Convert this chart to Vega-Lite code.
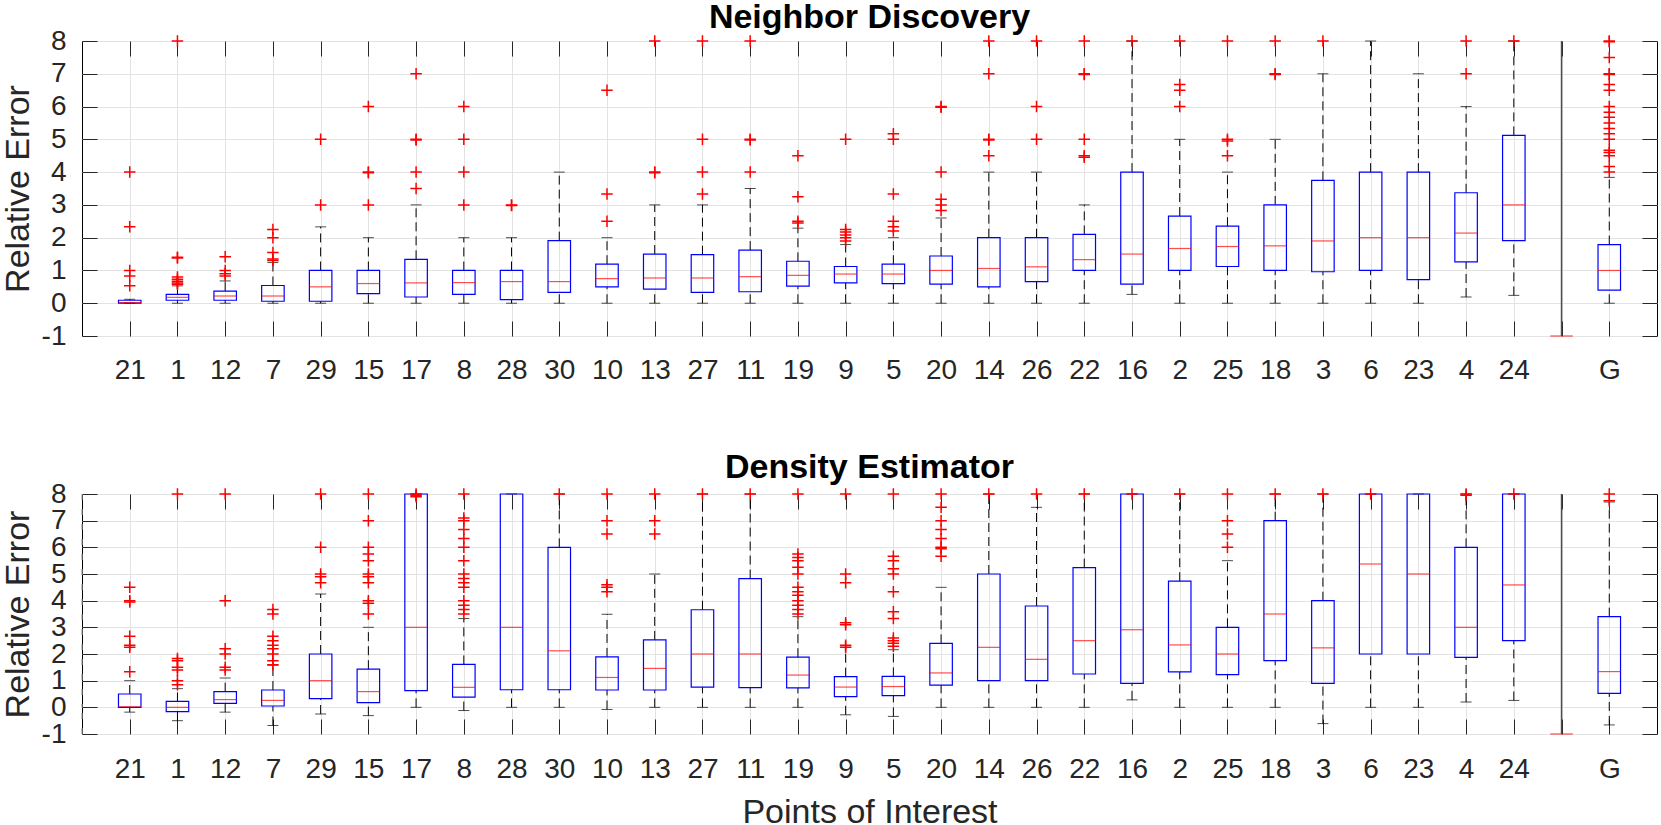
{
  "$schema": "https://vega.github.io/schema/vega-lite/v6.json",
  "padding": {"left": 0, "top": 0, "right": 0, "bottom": 0},
  "spacing": 158,
  "bounds": "flush",
  "datasets": {
    "nd_box": [
      {"poi": "21", "lo": 0, "q1": 0, "med": 0.02, "q3": 0.09, "hi": 0.12},
      {"poi": "1", "lo": 0, "q1": 0.09, "med": 0.18, "q3": 0.27, "hi": 0.53},
      {"poi": "12", "lo": 0, "q1": 0.09, "med": 0.22, "q3": 0.37, "hi": 0.68},
      {"poi": "7", "lo": 0, "q1": 0.06, "med": 0.22, "q3": 0.54, "hi": 1.24},
      {"poi": "29", "lo": 0, "q1": 0.06, "med": 0.5, "q3": 1.0, "hi": 2.33},
      {"poi": "15", "lo": 0, "q1": 0.29, "med": 0.6, "q3": 1.0, "hi": 2.0},
      {"poi": "17", "lo": 0, "q1": 0.19, "med": 0.62, "q3": 1.34, "hi": 3.0},
      {"poi": "8", "lo": 0, "q1": 0.27, "med": 0.63, "q3": 1.0, "hi": 2.0},
      {"poi": "28", "lo": 0, "q1": 0.11, "med": 0.66, "q3": 1.0, "hi": 2.0},
      {"poi": "30", "lo": 0, "q1": 0.33, "med": 0.66, "q3": 1.91, "hi": 4.0},
      {"poi": "10", "lo": 0, "q1": 0.5, "med": 0.75, "q3": 1.19, "hi": 2.0},
      {"poi": "13", "lo": 0, "q1": 0.43, "med": 0.77, "q3": 1.5, "hi": 3.0},
      {"poi": "27", "lo": 0, "q1": 0.33, "med": 0.77, "q3": 1.48, "hi": 3.0},
      {"poi": "11", "lo": 0, "q1": 0.35, "med": 0.81, "q3": 1.62, "hi": 3.5},
      {"poi": "19", "lo": 0, "q1": 0.52, "med": 0.85, "q3": 1.28, "hi": 2.29},
      {"poi": "9", "lo": 0, "q1": 0.62, "med": 0.89, "q3": 1.12, "hi": 1.79},
      {"poi": "5", "lo": 0, "q1": 0.6, "med": 0.89, "q3": 1.19, "hi": 2.0},
      {"poi": "20", "lo": 0, "q1": 0.58, "med": 1.0, "q3": 1.44, "hi": 2.6},
      {"poi": "14", "lo": 0, "q1": 0.5, "med": 1.06, "q3": 2.0, "hi": 4.0},
      {"poi": "26", "lo": 0, "q1": 0.66, "med": 1.11, "q3": 2.0, "hi": 4.0},
      {"poi": "22", "lo": 0, "q1": 1.0, "med": 1.33, "q3": 2.1, "hi": 3.0},
      {"poi": "16", "lo": 0.27, "q1": 0.58, "med": 1.5, "q3": 4.0, "hi": 8},
      {"poi": "2", "lo": 0, "q1": 1.0, "med": 1.67, "q3": 2.66, "hi": 5.0},
      {"poi": "25", "lo": 0, "q1": 1.12, "med": 1.73, "q3": 2.35, "hi": 4.0},
      {"poi": "18", "lo": 0, "q1": 1.0, "med": 1.75, "q3": 3.0, "hi": 5.0},
      {"poi": "3", "lo": 0, "q1": 0.96, "med": 1.9, "q3": 3.75, "hi": 7.0},
      {"poi": "6", "lo": 0, "q1": 1.0, "med": 2.0, "q3": 4.0, "hi": 8},
      {"poi": "23", "lo": 0, "q1": 0.72, "med": 2.0, "q3": 4.0, "hi": 7.0},
      {"poi": "4", "lo": 0.19, "q1": 1.26, "med": 2.14, "q3": 3.37, "hi": 6.0},
      {"poi": "24", "lo": 0.24, "q1": 1.91, "med": 3.0, "q3": 5.12, "hi": 8},
      {"poi": " ", "med": -1},
      {"poi": "G", "lo": 0, "q1": 0.4, "med": 1.0, "q3": 1.79, "hi": 3.84}
    ],
    "de_box": [
      {"poi": "21", "lo": -0.18, "q1": 0, "med": 0.02, "q3": 0.5, "hi": 1.0},
      {"poi": "1", "lo": -0.5, "q1": -0.16, "med": 0, "q3": 0.22, "hi": 0.7},
      {"poi": "12", "lo": -0.18, "q1": 0.15, "med": 0.29, "q3": 0.59, "hi": 1.1},
      {"poi": "7", "lo": -0.68, "q1": 0.05, "med": 0.26, "q3": 0.65, "hi": 1.58},
      {"poi": "29", "lo": -0.25, "q1": 0.33, "med": 1.0, "q3": 2.0, "hi": 4.25},
      {"poi": "15", "lo": -0.31, "q1": 0.18, "med": 0.59, "q3": 1.43, "hi": 3.0},
      {"poi": "17", "lo": 0, "q1": 0.63, "med": 3.0, "q3": 8, "hi": 8},
      {"poi": "8", "lo": -0.12, "q1": 0.38, "med": 0.75, "q3": 1.61, "hi": 3.33},
      {"poi": "28", "lo": 0, "q1": 0.66, "med": 3.0, "q3": 8, "hi": 8},
      {"poi": "30", "lo": 0, "q1": 0.66, "med": 2.12, "q3": 6.0, "hi": 8},
      {"poi": "10", "lo": -0.08, "q1": 0.65, "med": 1.12, "q3": 1.89, "hi": 3.49},
      {"poi": "13", "lo": 0, "q1": 0.65, "med": 1.46, "q3": 2.53, "hi": 5.0},
      {"poi": "27", "lo": 0, "q1": 0.76, "med": 2.0, "q3": 3.66, "hi": 8},
      {"poi": "11", "lo": 0, "q1": 0.74, "med": 2.0, "q3": 4.83, "hi": 8},
      {"poi": "19", "lo": 0, "q1": 0.73, "med": 1.21, "q3": 1.88, "hi": 3.4},
      {"poi": "9", "lo": -0.28, "q1": 0.4, "med": 0.76, "q3": 1.15, "hi": 2.25},
      {"poi": "5", "lo": -0.34, "q1": 0.44, "med": 0.78, "q3": 1.16, "hi": 2.16},
      {"poi": "20", "lo": 0, "q1": 0.83, "med": 1.29, "q3": 2.4, "hi": 4.5},
      {"poi": "14", "lo": 0, "q1": 1.0, "med": 2.25, "q3": 5.0, "hi": 8},
      {"poi": "26", "lo": 0, "q1": 1.0, "med": 1.8, "q3": 3.8, "hi": 7.5},
      {"poi": "22", "lo": 0, "q1": 1.25, "med": 2.5, "q3": 5.24, "hi": 8},
      {"poi": "16", "lo": 0.28, "q1": 0.9, "med": 2.91, "q3": 8, "hi": 8},
      {"poi": "2", "lo": 0, "q1": 1.33, "med": 2.34, "q3": 4.73, "hi": 8},
      {"poi": "25", "lo": 0, "q1": 1.23, "med": 2.0, "q3": 3.0, "hi": 5.5},
      {"poi": "18", "lo": 0, "q1": 1.75, "med": 3.5, "q3": 7.0, "hi": 8},
      {"poi": "3", "lo": -0.61, "q1": 0.9, "med": 2.23, "q3": 4.0, "hi": 8},
      {"poi": "6", "lo": 0, "q1": 2.0, "med": 5.375, "q3": 8, "hi": 8},
      {"poi": "23", "lo": 0, "q1": 2.0, "med": 5.0, "q3": 8, "hi": 8},
      {"poi": "4", "lo": 0.2, "q1": 1.875, "med": 3.0, "q3": 6.0, "hi": 8},
      {"poi": "24", "lo": 0.26, "q1": 2.5, "med": 4.59, "q3": 8, "hi": 8},
      {"poi": " ", "med": -1},
      {"poi": "G", "lo": -0.66, "q1": 0.52, "med": 1.34, "q3": 3.4, "hi": 7.7}
    ],
    "nd_out": [
      {"poi": "21", "v": 4}, {"poi": "21", "v": 2.33}, {"poi": "21", "v": 1.0}, {"poi": "21", "v": 0.83}, {"poi": "21", "v": 0.53},
      {"poi": "1", "v": 8}, {"poi": "1", "v": 1.4}, {"poi": "1", "v": 1.38}, {"poi": "1", "v": 0.8}, {"poi": "1", "v": 0.73}, {"poi": "1", "v": 0.67}, {"poi": "1", "v": 0.62}, {"poi": "1", "v": 0.58},
      {"poi": "12", "v": 1.42}, {"poi": "12", "v": 1.0}, {"poi": "12", "v": 0.9}, {"poi": "12", "v": 0.83},
      {"poi": "7", "v": 2.25}, {"poi": "7", "v": 2.0}, {"poi": "7", "v": 1.55}, {"poi": "7", "v": 1.35}, {"poi": "7", "v": 1.3},
      {"poi": "29", "v": 5}, {"poi": "29", "v": 3},
      {"poi": "15", "v": 6}, {"poi": "15", "v": 4}, {"poi": "15", "v": 3.98}, {"poi": "15", "v": 3},
      {"poi": "17", "v": 7}, {"poi": "17", "v": 5}, {"poi": "17", "v": 4.98}, {"poi": "17", "v": 4}, {"poi": "17", "v": 3.5},
      {"poi": "8", "v": 6}, {"poi": "8", "v": 5}, {"poi": "8", "v": 4}, {"poi": "8", "v": 3},
      {"poi": "28", "v": 3}, {"poi": "28", "v": 2.98},
      {"poi": "10", "v": 6.5}, {"poi": "10", "v": 3.33}, {"poi": "10", "v": 2.5},
      {"poi": "13", "v": 8}, {"poi": "13", "v": 4}, {"poi": "13", "v": 3.98},
      {"poi": "27", "v": 8}, {"poi": "27", "v": 5}, {"poi": "27", "v": 4}, {"poi": "27", "v": 3.33},
      {"poi": "11", "v": 8}, {"poi": "11", "v": 5}, {"poi": "11", "v": 4.98}, {"poi": "11", "v": 4},
      {"poi": "19", "v": 4.5}, {"poi": "19", "v": 3.25}, {"poi": "19", "v": 2.5}, {"poi": "19", "v": 2.45},
      {"poi": "9", "v": 5}, {"poi": "9", "v": 2.25}, {"poi": "9", "v": 2.17}, {"poi": "9", "v": 2.08}, {"poi": "9", "v": 2.0}, {"poi": "9", "v": 1.9},
      {"poi": "5", "v": 5.17}, {"poi": "5", "v": 5.0}, {"poi": "5", "v": 3.33}, {"poi": "5", "v": 2.5}, {"poi": "5", "v": 2.33}, {"poi": "5", "v": 2.2},
      {"poi": "20", "v": 6}, {"poi": "20", "v": 5.98}, {"poi": "20", "v": 4}, {"poi": "20", "v": 3.17}, {"poi": "20", "v": 3.0}, {"poi": "20", "v": 2.83},
      {"poi": "14", "v": 8}, {"poi": "14", "v": 7}, {"poi": "14", "v": 5}, {"poi": "14", "v": 4.98}, {"poi": "14", "v": 4.5},
      {"poi": "26", "v": 8}, {"poi": "26", "v": 6}, {"poi": "26", "v": 5},
      {"poi": "22", "v": 8}, {"poi": "22", "v": 7}, {"poi": "22", "v": 6.98}, {"poi": "22", "v": 5}, {"poi": "22", "v": 4.5}, {"poi": "22", "v": 4.45},
      {"poi": "16", "v": 8},
      {"poi": "2", "v": 8}, {"poi": "2", "v": 6.67}, {"poi": "2", "v": 6.5}, {"poi": "2", "v": 6.0},
      {"poi": "25", "v": 8}, {"poi": "25", "v": 5.0}, {"poi": "25", "v": 4.95}, {"poi": "25", "v": 4.5},
      {"poi": "18", "v": 8}, {"poi": "18", "v": 7}, {"poi": "18", "v": 6.98},
      {"poi": "3", "v": 8},
      {"poi": "4", "v": 8}, {"poi": "4", "v": 7},
      {"poi": "24", "v": 8},
      {"poi": "G", "v": 8}, {"poi": "G", "v": 7.98}, {"poi": "G", "v": 7.5}, {"poi": "G", "v": 7}, {"poi": "G", "v": 6.98}, {"poi": "G", "v": 6.67}, {"poi": "G", "v": 6.5}, {"poi": "G", "v": 6}, {"poi": "G", "v": 5.83}, {"poi": "G", "v": 5.67}, {"poi": "G", "v": 5.5}, {"poi": "G", "v": 5.33}, {"poi": "G", "v": 5.17}, {"poi": "G", "v": 5}, {"poi": "G", "v": 4.67}, {"poi": "G", "v": 4.6}, {"poi": "G", "v": 4.5}, {"poi": "G", "v": 4.17}, {"poi": "G", "v": 4.0}
    ],
    "de_out": [
      {"poi": "21", "v": 4.5}, {"poi": "21", "v": 4.0}, {"poi": "21", "v": 3.95}, {"poi": "21", "v": 2.67}, {"poi": "21", "v": 2.33}, {"poi": "21", "v": 2.25}, {"poi": "21", "v": 1.33},
      {"poi": "1", "v": 8}, {"poi": "1", "v": 1.83}, {"poi": "1", "v": 1.75}, {"poi": "1", "v": 1.5}, {"poi": "1", "v": 1.4}, {"poi": "1", "v": 1.0}, {"poi": "1", "v": 0.85},
      {"poi": "12", "v": 8}, {"poi": "12", "v": 4}, {"poi": "12", "v": 2.2}, {"poi": "12", "v": 2.0}, {"poi": "12", "v": 1.5}, {"poi": "12", "v": 1.4},
      {"poi": "7", "v": 3.67}, {"poi": "7", "v": 3.5}, {"poi": "7", "v": 2.67}, {"poi": "7", "v": 2.5}, {"poi": "7", "v": 2.33}, {"poi": "7", "v": 2.2}, {"poi": "7", "v": 2.0}, {"poi": "7", "v": 1.75}, {"poi": "7", "v": 1.6},
      {"poi": "29", "v": 8}, {"poi": "29", "v": 6}, {"poi": "29", "v": 5.0}, {"poi": "29", "v": 4.9}, {"poi": "29", "v": 4.67},
      {"poi": "15", "v": 8}, {"poi": "15", "v": 7}, {"poi": "15", "v": 6}, {"poi": "15", "v": 5.75}, {"poi": "15", "v": 5.5}, {"poi": "15", "v": 5}, {"poi": "15", "v": 4.9}, {"poi": "15", "v": 4.67}, {"poi": "15", "v": 4.0}, {"poi": "15", "v": 3.9}, {"poi": "15", "v": 3.5},
      {"poi": "17", "v": 8}, {"poi": "17", "v": 7.95}, {"poi": "17", "v": 7.9},
      {"poi": "8", "v": 8}, {"poi": "8", "v": 7.1}, {"poi": "8", "v": 7.0}, {"poi": "8", "v": 6.67}, {"poi": "8", "v": 6.33}, {"poi": "8", "v": 6.0}, {"poi": "8", "v": 5.5}, {"poi": "8", "v": 5.0}, {"poi": "8", "v": 4.83}, {"poi": "8", "v": 4.67}, {"poi": "8", "v": 4.5}, {"poi": "8", "v": 4.0}, {"poi": "8", "v": 3.83}, {"poi": "8", "v": 3.67}, {"poi": "8", "v": 3.5},
      {"poi": "30", "v": 8},
      {"poi": "10", "v": 8}, {"poi": "10", "v": 7}, {"poi": "10", "v": 6.5}, {"poi": "10", "v": 4.6}, {"poi": "10", "v": 4.5}, {"poi": "10", "v": 4.33},
      {"poi": "13", "v": 8}, {"poi": "13", "v": 7}, {"poi": "13", "v": 6.5},
      {"poi": "27", "v": 8},
      {"poi": "11", "v": 8},
      {"poi": "19", "v": 8}, {"poi": "19", "v": 5.75}, {"poi": "19", "v": 5.62}, {"poi": "19", "v": 5.5}, {"poi": "19", "v": 5.25}, {"poi": "19", "v": 5.0}, {"poi": "19", "v": 4.5}, {"poi": "19", "v": 4.33}, {"poi": "19", "v": 4.2}, {"poi": "19", "v": 4.0}, {"poi": "19", "v": 3.83}, {"poi": "19", "v": 3.67}, {"poi": "19", "v": 3.5},
      {"poi": "9", "v": 8}, {"poi": "9", "v": 5.0}, {"poi": "9", "v": 4.67}, {"poi": "9", "v": 3.17}, {"poi": "9", "v": 3.1}, {"poi": "9", "v": 2.33}, {"poi": "9", "v": 2.25},
      {"poi": "5", "v": 8}, {"poi": "5", "v": 5.67}, {"poi": "5", "v": 5.5}, {"poi": "5", "v": 5.2}, {"poi": "5", "v": 5.0}, {"poi": "5", "v": 4.33}, {"poi": "5", "v": 3.58}, {"poi": "5", "v": 3.33}, {"poi": "5", "v": 2.6}, {"poi": "5", "v": 2.5}, {"poi": "5", "v": 2.4}, {"poi": "5", "v": 2.29},
      {"poi": "20", "v": 8}, {"poi": "20", "v": 7.5}, {"poi": "20", "v": 7.0}, {"poi": "20", "v": 6.67}, {"poi": "20", "v": 6.33}, {"poi": "20", "v": 6.0}, {"poi": "20", "v": 5.95}, {"poi": "20", "v": 5.67},
      {"poi": "14", "v": 8},
      {"poi": "26", "v": 8},
      {"poi": "22", "v": 8},
      {"poi": "16", "v": 8},
      {"poi": "2", "v": 8},
      {"poi": "25", "v": 8}, {"poi": "25", "v": 7}, {"poi": "25", "v": 6.5}, {"poi": "25", "v": 6.0},
      {"poi": "18", "v": 8},
      {"poi": "3", "v": 8},
      {"poi": "6", "v": 8},
      {"poi": "4", "v": 8}, {"poi": "4", "v": 7.95},
      {"poi": "24", "v": 8},
      {"poi": "G", "v": 8}, {"poi": "G", "v": 7.75}
    ]
  },
  "vconcat": [
    {
      "width": 1575,
      "height": 295,
      "title": {"text": "Neighbor Discovery", "frame": "group", "offset": -42, "baseline": "bottom"},
      "encoding": {
        "x": {"field": "poi", "type": "ordinal", "axis": null,
              "scale": {"type": "point", "padding": 1, "domain": ["21","1","12","7","29","15","17","8","28","30","10","13","27","11","19","9","5","20","14","26","22","16","2","25","18","3","6","23","4","24"," ","G"]}}
      },
      "layer": [
        {
          "data": {"values": [{}]},
          "mark": {"type": "rule", "color": "#4d4d4d", "strokeWidth": 1.5},
          "encoding": {
            "x": {"datum": " ", "type": "ordinal",
                  "scale": {"type": "point", "padding": 1, "domain": ["21","1","12","7","29","15","17","8","28","30","10","13","27","11","19","9","5","20","14","26","22","16","2","25","18","3","6","23","4","24"," ","G"]},
                  "axis": {"orient": "bottom", "title": null, "grid": true, "tickSize": -15, "labelPadding": 35, "labelAngle": 0}}
          }
        },
        {
          "data": {"name": "nd_box"},
          "transform": [{"filter": "isValid(datum.q1)"}],
          "mark": {"type": "rule", "color": "#000000", "strokeWidth": 1, "strokeDash": [9, 5]},
          "encoding": {
            "y": {"field": "lo", "type": "quantitative", "scale": {"domain": [-1, 8], "nice": false, "zero": false},
                  "axis": {"orient": "left", "title": "Relative Error", "values": [-1,0,1,2,3,4,5,6,7,8], "labelExpr": "'' + datum.value", "grid": true, "tickSize": -15, "labelPadding": 31, "titlePadding": 6}},
            "y2": {"field": "q1"}
          }
        },
        {
          "data": {"name": "nd_box"},
          "transform": [{"filter": "isValid(datum.q3)"}],
          "mark": {"type": "rule", "color": "#000000", "strokeWidth": 1, "strokeDash": [9, 5]},
          "encoding": {
            "y": {"field": "q3", "type": "quantitative", "scale": {"domain": [-1, 8], "nice": false, "zero": false},
                  "axis": {"orient": "right", "title": null, "labels": false, "values": [-1,0,1,2,3,4,5,6,7,8], "grid": false, "tickSize": -15}},
            "y2": {"field": "hi"}
          }
        },
        {
          "data": {"name": "nd_box"},
          "transform": [{"filter": "isValid(datum.lo)"}],
          "mark": {"type": "tick", "orient": "horizontal", "color": "#000000", "size": 11, "thickness": 1},
          "encoding": {"y": {"field": "lo", "type": "quantitative", "axis": null, "scale": {"domain": [-1, 8], "nice": false, "zero": false}}}
        },
        {
          "data": {"name": "nd_box"},
          "transform": [{"filter": "isValid(datum.hi)"}],
          "mark": {"type": "tick", "orient": "horizontal", "color": "#000000", "size": 11, "thickness": 1},
          "encoding": {"y": {"field": "hi", "type": "quantitative", "axis": null, "scale": {"domain": [-1, 8], "nice": false, "zero": false}}}
        },
        {
          "data": {"name": "nd_box"},
          "transform": [{"filter": "isValid(datum.q1)"}],
          "mark": {"type": "bar", "filled": false, "stroke": "#0000ff", "strokeWidth": 1.2, "width": 22.5},
          "encoding": {
            "x": {"field": "poi", "type": "ordinal",
                  "scale": {"type": "point", "padding": 1, "domain": ["21","1","12","7","29","15","17","8","28","30","10","13","27","11","19","9","5","20","14","26","22","16","2","25","18","3","6","23","4","24"," ","G"]},
                  "axis": {"orient": "top", "title": null, "labels": false, "grid": false, "tickSize": -15}},
            "y": {"field": "q1", "type": "quantitative", "axis": null, "scale": {"domain": [-1, 8], "nice": false, "zero": false}},
            "y2": {"field": "q3"}
          }
        },
        {
          "data": {"name": "nd_box"},
          "mark": {"type": "tick", "orient": "horizontal", "color": "#ff0000", "size": 22.5, "thickness": 1.2},
          "encoding": {"y": {"field": "med", "type": "quantitative", "axis": null, "scale": {"domain": [-1, 8], "nice": false, "zero": false}}}
        },
        {
          "data": {"name": "nd_out"},
          "mark": {"type": "point", "shape": "M-1,0H1M0,-1V1", "size": 132, "filled": false, "stroke": "#ff0000", "strokeWidth": 1.5, "opacity": 1},
          "encoding": {"y": {"field": "v", "type": "quantitative", "axis": null, "scale": {"domain": [-1, 8], "nice": false, "zero": false}}}
        }
      ],
      "resolve": {"axis": {"x": "independent", "y": "independent"}}
    },
    {
      "width": 1575,
      "height": 240,
      "title": {"text": "Density Estimator", "frame": "group", "offset": -38.5, "baseline": "bottom"},
      "encoding": {
        "x": {"field": "poi", "type": "ordinal", "axis": null,
              "scale": {"type": "point", "padding": 1, "domain": ["21","1","12","7","29","15","17","8","28","30","10","13","27","11","19","9","5","20","14","26","22","16","2","25","18","3","6","23","4","24"," ","G"]}}
      },
      "layer": [
        {
          "data": {"values": [{}]},
          "mark": {"type": "rule", "color": "#4d4d4d", "strokeWidth": 1.5},
          "encoding": {
            "x": {"datum": " ", "type": "ordinal",
                  "scale": {"type": "point", "padding": 1, "domain": ["21","1","12","7","29","15","17","8","28","30","10","13","27","11","19","9","5","20","14","26","22","16","2","25","18","3","6","23","4","24"," ","G"]},
                  "axis": {"orient": "bottom", "title": "Points of Interest", "titlePadding": 12, "grid": true, "tickSize": -15, "labelPadding": 36, "labelAngle": 0}}
          }
        },
        {
          "data": {"name": "de_box"},
          "transform": [{"filter": "isValid(datum.q1)"}],
          "mark": {"type": "rule", "color": "#000000", "strokeWidth": 1, "strokeDash": [9, 5]},
          "encoding": {
            "y": {"field": "lo", "type": "quantitative", "scale": {"domain": [-1, 8], "nice": false, "zero": false},
                  "axis": {"orient": "left", "title": "Relative Error", "values": [-1,0,1,2,3,4,5,6,7,8], "labelExpr": "'' + datum.value", "grid": true, "tickSize": -15, "labelPadding": 31, "titlePadding": 6}},
            "y2": {"field": "q1"}
          }
        },
        {
          "data": {"name": "de_box"},
          "transform": [{"filter": "isValid(datum.q3)"}],
          "mark": {"type": "rule", "color": "#000000", "strokeWidth": 1, "strokeDash": [9, 5]},
          "encoding": {
            "y": {"field": "q3", "type": "quantitative", "scale": {"domain": [-1, 8], "nice": false, "zero": false},
                  "axis": {"orient": "right", "title": null, "labels": false, "values": [-1,0,1,2,3,4,5,6,7,8], "grid": false, "tickSize": -15}},
            "y2": {"field": "hi"}
          }
        },
        {
          "data": {"name": "de_box"},
          "transform": [{"filter": "isValid(datum.lo)"}],
          "mark": {"type": "tick", "orient": "horizontal", "color": "#000000", "size": 11, "thickness": 1},
          "encoding": {"y": {"field": "lo", "type": "quantitative", "axis": null, "scale": {"domain": [-1, 8], "nice": false, "zero": false}}}
        },
        {
          "data": {"name": "de_box"},
          "transform": [{"filter": "isValid(datum.hi)"}],
          "mark": {"type": "tick", "orient": "horizontal", "color": "#000000", "size": 11, "thickness": 1},
          "encoding": {"y": {"field": "hi", "type": "quantitative", "axis": null, "scale": {"domain": [-1, 8], "nice": false, "zero": false}}}
        },
        {
          "data": {"name": "de_box"},
          "transform": [{"filter": "isValid(datum.q1)"}],
          "mark": {"type": "bar", "filled": false, "stroke": "#0000ff", "strokeWidth": 1.2, "width": 22.5},
          "encoding": {
            "x": {"field": "poi", "type": "ordinal",
                  "scale": {"type": "point", "padding": 1, "domain": ["21","1","12","7","29","15","17","8","28","30","10","13","27","11","19","9","5","20","14","26","22","16","2","25","18","3","6","23","4","24"," ","G"]},
                  "axis": {"orient": "top", "title": null, "labels": false, "grid": false, "tickSize": -15}},
            "y": {"field": "q1", "type": "quantitative", "axis": null, "scale": {"domain": [-1, 8], "nice": false, "zero": false}},
            "y2": {"field": "q3"}
          }
        },
        {
          "data": {"name": "de_box"},
          "mark": {"type": "tick", "orient": "horizontal", "color": "#ff0000", "size": 22.5, "thickness": 1.2},
          "encoding": {"y": {"field": "med", "type": "quantitative", "axis": null, "scale": {"domain": [-1, 8], "nice": false, "zero": false}}}
        },
        {
          "data": {"values": [{}]},
          "mark": {"type": "rule", "color": "#9a9a9a", "strokeWidth": 1.2, "strokeDash": [6, 9]},
          "encoding": {"y": {"datum": 8, "type": "quantitative", "axis": null, "scale": {"domain": [-1, 8], "nice": false, "zero": false}}}
        },
        {
          "data": {"values": [{}]},
          "mark": {"type": "rule", "color": "#9a9a9a", "strokeWidth": 1.2, "strokeDash": [6, 9]},
          "encoding": {"y": {"datum": -1, "type": "quantitative", "axis": null, "scale": {"domain": [-1, 8], "nice": false, "zero": false}}}
        },
        {
          "data": {"name": "de_out"},
          "mark": {"type": "point", "shape": "M-1,0H1M0,-1V1", "size": 132, "filled": false, "stroke": "#ff0000", "strokeWidth": 1.5, "opacity": 1},
          "encoding": {"y": {"field": "v", "type": "quantitative", "axis": null, "scale": {"domain": [-1, 8], "nice": false, "zero": false}}}
        }
      ],
      "resolve": {"axis": {"x": "independent", "y": "independent"}}
    }
  ],
  "config": {
    "font": "Liberation Sans",
    "background": "#ffffff",
    "view": {"stroke": "#000000", "strokeWidth": 1},
    "axis": {
      "domain": false,
      "labelOverlap": false,
      "labelFont": "Liberation Sans",
      "labelFontSize": 28,
      "labelColor": "#262626",
      "tickColor": "#262626",
      "tickWidth": 1,
      "gridColor": "#e3e3e3",
      "gridWidth": 1,
      "titleFont": "Liberation Sans",
      "titleFontSize": 34,
      "titleFontWeight": "normal",
      "titleColor": "#262626"
    },
    "title": {"font": "Liberation Sans", "fontSize": 34, "fontWeight": "bold", "color": "#000000"}
  }
}
